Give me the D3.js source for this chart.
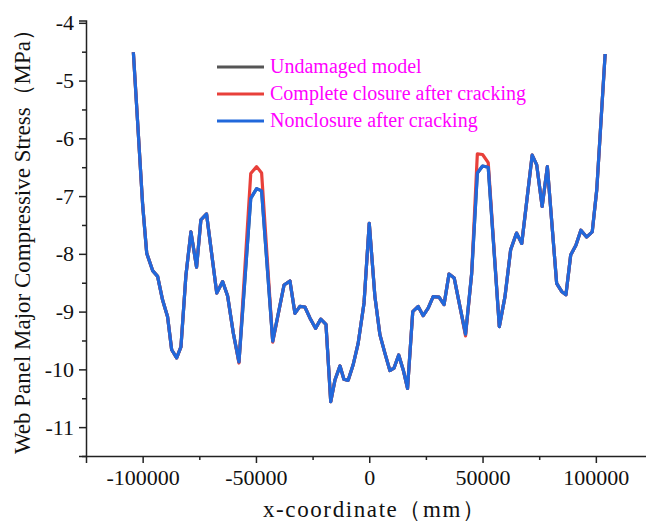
<!DOCTYPE html>
<html>
<head>
<meta charset="utf-8">
<script src="https://cdn.jsdelivr.net/npm/d3@7"></script>
<style>
  body { margin: 0; background: #fff; }
  text { font-family: "Liberation Serif", "Times New Roman", serif; }
</style>
</head>
<body>
<script>
// x positions of the sampling points (mm)
var xCoords = [
  -104100, -100000, -98200, -95600, -93400, -91200, -89000, -87200, -85000, -83100,
  -80900, -78700, -76200, -74300, -71800, -67300, -64700, -62500, -60000, -57500,
  -52300, -49700, -47500, -42600, -37600, -35000, -32800, -30600, -28400, -26200,
  -23700, -21400, -19100, -17000, -15100, -12900, -11200, -9300, -7100, -4900,
  -2300, 0, 2500, 4700, 6900, 9100, 10900, 13000, 15000, 16900,
  19200, 21600, 23800, 26000, 28200, 30800, 33000, 35200, 37500, 40000,
  42500, 45200, 47700, 50000, 52500, 57400, 59900, 62400, 65000, 67300,
  71900, 73900, 76300, 78600, 82700, 84900, 86800, 88900, 91200, 93400,
  95900, 98400, 100400, 104100
];

// stress (MPa)
var undamaged = [
  -4.51, -7.15, -7.99, -8.29, -8.39, -8.80, -9.09, -9.66, -9.80, -9.61,
  -8.37, -7.62, -8.23, -7.41, -7.31, -8.68, -8.48, -8.73, -9.37, -9.87,
  -7.04, -6.87, -6.91, -9.51, -8.54, -8.47, -9.03, -8.91, -8.92, -9.11,
  -9.29, -9.13, -9.22, -10.56, -10.18, -9.94, -10.17, -10.19, -9.92, -9.55,
  -8.85, -7.47, -8.74, -9.40, -9.72, -10.02, -9.98, -9.75, -10.01, -10.33,
  -9.00, -8.91, -9.07, -8.94, -8.74, -8.75, -8.88, -8.35, -8.42, -8.91,
  -9.39, -8.34, -6.60, -6.48, -6.50, -9.26, -8.74, -7.93, -7.64, -7.82,
  -6.29, -6.46, -7.18, -6.49, -8.51, -8.65, -8.71, -8.02, -7.85, -7.59,
  -7.71, -7.62, -6.89, -4.54
];

var closure = [
  -4.51, -7.15, -7.99, -8.29, -8.39, -8.80, -9.09, -9.66, -9.80, -9.61,
  -8.37, -7.62, -8.23, -7.41, -7.31, -8.68, -8.48, -8.73, -9.37, -9.89,
  -6.61, -6.49, -6.60, -9.53, -8.54, -8.47, -9.03, -8.91, -8.92, -9.11,
  -9.29, -9.13, -9.22, -10.56, -10.18, -9.94, -10.17, -10.19, -9.92, -9.55,
  -8.85, -7.47, -8.74, -9.40, -9.72, -10.02, -9.98, -9.75, -10.01, -10.33,
  -9.00, -8.91, -9.07, -8.94, -8.74, -8.75, -8.88, -8.35, -8.42, -8.91,
  -9.42, -8.34, -6.27, -6.28, -6.42, -9.26, -8.74, -7.93, -7.64, -7.82,
  -6.29, -6.46, -7.18, -6.49, -8.51, -8.65, -8.71, -8.02, -7.85, -7.59,
  -7.71, -7.62, -6.89, -4.54
];

var nonclosure = [
  -4.51, -7.15, -7.99, -8.29, -8.39, -8.80, -9.09, -9.66, -9.80, -9.61,
  -8.37, -7.62, -8.23, -7.41, -7.31, -8.68, -8.48, -8.73, -9.37, -9.87,
  -7.04, -6.87, -6.91, -9.51, -8.54, -8.47, -9.03, -8.91, -8.92, -9.11,
  -9.29, -9.13, -9.22, -10.56, -10.18, -9.94, -10.17, -10.19, -9.92, -9.55,
  -8.85, -7.47, -8.74, -9.40, -9.72, -10.02, -9.98, -9.75, -10.01, -10.33,
  -9.00, -8.91, -9.07, -8.94, -8.74, -8.75, -8.88, -8.35, -8.42, -8.91,
  -9.39, -8.34, -6.60, -6.48, -6.50, -9.26, -8.74, -7.93, -7.64, -7.82,
  -6.29, -6.46, -7.18, -6.49, -8.51, -8.65, -8.71, -8.02, -7.85, -7.59,
  -7.71, -7.62, -6.89, -4.54
];

var seriesNames = ["Undamaged model", "Complete closure after cracking", "Nonclosure after cracking"];
var seriesColors = ["#555555", "#e8403a", "#2168db"];
var xTicks = [-100000, -50000, 0, 50000, 100000];
var yTicks = [-11, -10, -9, -8, -7, -6, -5, -4];

var width = 646, height = 525;
var plotLeft = 86, plotBottom = 456, plotTop = 20.5;

var svg = d3.select("body").append("svg")
    .attr("width", width)
    .attr("height", height);

var xScale = d3.scaleLinear()
    .domain([-125000, 125000])
    .range([plotLeft, plotLeft + 566.5]);

var yScale = d3.scaleLinear()
    .domain([-11.5, -3.96])
    .range([plotBottom, plotTop]);

// minor ticks
svg.append("g")
    .attr("transform", "translate(0," + plotBottom + ")")
    .call(d3.axisBottom(xScale).tickValues([-75000, -25000, 25000, 75000]).tickSize(4).tickFormat(""))
    .call(g => g.select(".domain").remove());
svg.append("g")
    .attr("transform", "translate(" + plotLeft + ",0)")
    .call(d3.axisLeft(yScale).tickValues(d3.range(-11.5, -4, 1)).tickSize(4).tickFormat(""))
    .call(g => g.select(".domain").remove());

// x axis
svg.append("g")
    .attr("transform", "translate(0," + plotBottom + ")")
    .call(d3.axisBottom(xScale).tickValues(xTicks).tickSize(7).tickPadding(6).tickFormat(d => String(d)));

// y axis
svg.append("g")
    .attr("transform", "translate(" + plotLeft + ",0)")
    .call(d3.axisLeft(yScale).tickValues(yTicks).tickSize(7).tickPadding(5).tickFormat(d => String(d)));

svg.selectAll(".tick text")
    .attr("font-family", "Liberation Serif, serif")
    .attr("font-size", 22)
    .attr("fill", "#111");
svg.selectAll(".domain, .tick line")
    .attr("stroke", "#222")
    .attr("stroke-width", 1.5);

// axis titles
svg.append("text")
    .attr("x", 374)
    .attr("y", 517)
    .attr("text-anchor", "middle")
    .attr("font-size", 23)
    .attr("textLength", 222)
    .attr("lengthAdjust", "spacing")
    .attr("fill", "#111")
    .text("x-coordinate（mm）");

svg.append("text")
    .attr("transform", "translate(30,236) rotate(-90)")
    .attr("text-anchor", "middle")
    .attr("font-size", 23)
    .attr("textLength", 436)
    .attr("lengthAdjust", "spacing")
    .attr("fill", "#111")
    .text("Web Panel Major Compressive Stress（MPa）");

// lines
var line = d3.line()
    .x(function(d) { return xScale(d.x); })
    .y(function(d) { return yScale(d.y); });

[undamaged, closure, nonclosure].forEach(function(vals, i) {
    var dataset = xCoords.map(function(x, j) { return {x: x, y: vals[j]}; });
    svg.append("path")
        .datum(dataset)
        .attr("fill", "none")
        .attr("stroke", seriesColors[i])
        .attr("stroke-width", 3.2)
        .attr("stroke-linejoin", "round")
        .attr("d", line);
});

// legend
var legend = svg.append("g").attr("transform", "translate(217,67)");
seriesNames.forEach(function(name, i) {
    var g = legend.append("g").attr("transform", "translate(0," + (i * 27) + ")");
    g.append("line")
        .attr("x1", 0).attr("x2", 47)
        .attr("stroke", seriesColors[i])
        .attr("stroke-width", 3);
    g.append("text")
        .attr("x", 53)
        .attr("y", 6)
        .attr("font-size", 20)
        .attr("fill", "#ff00ff")
        .text(name);
});
</script>
</body>
</html>
